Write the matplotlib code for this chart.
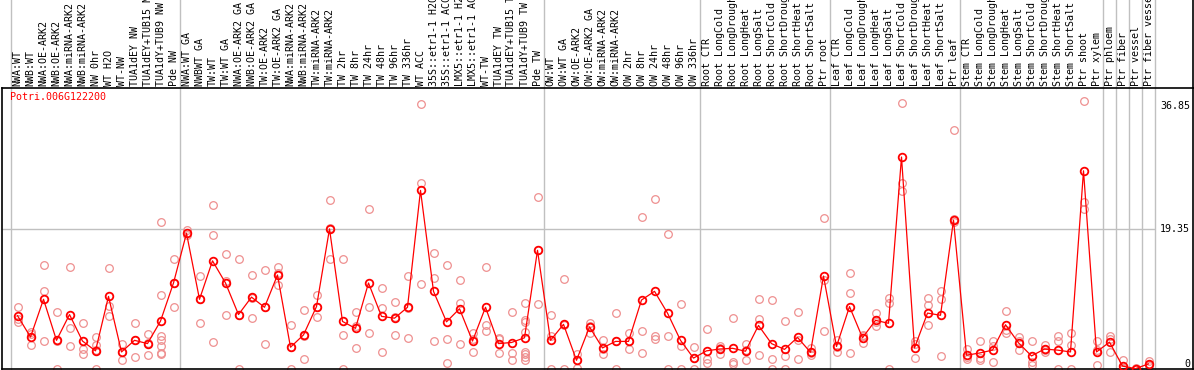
import matplotlib
matplotlib.use("Agg")
import matplotlib.pyplot as plt

gene = "Potri.006G122200"

conditions = [
    "NWA:WT", "NWB:WT", "NWA:OE-ARK2", "NWB:OE-ARK2", "NWA:miRNA-ARK2", "NWB:miRNA-ARK2",
    "NW 0hr", "WT H2O", "WT-NW", "TUA1dEY NW", "TUA1dEY+TUB15 NW", "TUA1dY+TUB9 NW", "Pde NW",
    "NWA:WT GA", "NWBWT GA", "TW:WT", "TW:WT GA", "NWA:OE-ARK2 GA", "NWB:OE-ARK2 GA",
    "TW:OE-ARK2", "TW:OE-ARK2 GA", "NWA:miRNA-ARK2", "NWB:miRNA-ARK2", "TW:miRNA-ARK2",
    "TW:miRNA-ARK2", "TW 2hr", "TW 8hr", "TW 24hr", "TW 48hr", "TW 96hr", "TW 336hr",
    "WT ACC", "35S::etr1-1 H2O", "35S::etr1-1 ACC", "LMX5::etr1-1 H2O", "LMX5::etr1-1 ACC",
    "WT-TW", "TUA1dEY TW", "TUA1dEY+TUB15 TW", "TUA1dY+TUB9 TW", "Pde TW",
    "OW:WT", "OW:WT GA", "OW:OE-ARK2", "OW:OE-ARK2 GA", "OW:miRNA-ARK2", "OW:miRNA-ARK2",
    "OW 2hr", "OW 8hr", "OW 24hr", "OW 48hr", "OW 96hr", "OW 336hr",
    "Root CTR", "Root LongCold", "Root LongDrought", "Root LongHeat", "Root LongSalt",
    "Root ShortCold", "Root ShortDrought", "Root ShortHeat", "Root ShortSalt", "Ptr root",
    "Leaf CTR", "Leaf LongCold", "Leaf LongDrought", "Leaf LongHeat", "Leaf LongSalt",
    "Leaf ShortCold", "Leaf ShortDrought", "Leaf ShortHeat", "Leaf ShortSalt", "Ptr leaf",
    "Stem CTR", "Stem LongCold", "Stem LongDrought", "Stem LongHeat", "Stem LongSalt",
    "Stem ShortCold", "Stem ShortDrought", "Stem ShortHeat", "Stem ShortSalt", "Ptr shoot",
    "Ptr xylem", "Ptr phloem", "Ptr fiber", "Ptr vessel", "Ptr fiber vessel",
]

# index where each group starts (grey separators)
group_starts = [0, 13, 41, 53, 63, 73, 84, 85, 86, 87, 88]

means = [
    7.35, 4.4, 9.6, 3.95, 7.5, 3.85, 2.5, 10.0, 2.35, 3.95, 3.5, 6.6, 11.85,
    18.7, 9.6, 14.9, 11.85, 7.5, 9.9, 8.5, 12.95, 3.0, 4.7, 8.6, 19.3, 6.55,
    5.6, 11.85, 7.25, 7.0, 8.5, 24.6, 10.7, 6.5, 8.3, 3.85, 8.5, 3.5, 3.65, 4.3, 16.35,
    3.95, 6.15, 1.2, 5.8, 2.9, 3.8, 3.8, 9.5, 10.7, 7.7, 3.95, 1.5,
    2.5, 2.75, 2.85, 2.45, 6.0, 3.5, 2.7, 4.35, 2.3, 12.8,
    3.1, 8.6, 4.3, 6.7, 6.3, 29.2, 2.9, 7.7, 7.4, 20.5,
    1.9, 2.2, 2.6, 6.1, 3.6, 1.8, 2.75, 2.6, 2.35, 27.3, 2.35,
    3.7, 0.4, 0.05, 0.7,
]

replicates = [
    [8.6, 6.9, 6.5], [5.1, 3.3, 4.8], [14.3, 10.7, 3.9], [7.9, 0.0, 3.9],
    [14.05, 5.6, 3.1], [6.4, 2.8, 2.1], [4.4, 3.35, 0.0, 2.6], [13.9, 8.7, 7.35],
    [3.4, 1.2, 2.4], [6.3, 1.6, 4.0], [4.8, 1.9, 3.6],
    [20.3, 10.15, 4.5, 3.95, 3.2, 2.2, 2.0], [15.1, 8.5, 11.9],
    [19.2, 18.5], [12.8, 6.3, 9.7], [22.6, 18.5, 3.7], [15.9, 7.5, 12.1],
    [15.1, 0.0, 7.4], [12.95, 7.0, 9.8], [13.6, 3.4, 8.5], [14.05, 11.6, 13.2],
    [6.0, 0.0, 3.0], [8.1, 1.4, 4.6], [10.2, 7.1, 8.5], [23.3, 15.2, 19.4],
    [15.2, 4.7, 0.0], [7.9, 5.9, 2.9], [22.0, 8.6, 4.9], [11.1, 8.4, 2.3],
    [9.2, 4.7, 7.1], [12.8, 4.3, 8.4], [36.45, 25.6, 11.7], [16.0, 12.5, 3.8],
    [14.3, 4.1, 0.8], [12.3, 9.1, 3.4], [4.95, 2.4, 4.2], [14.1, 6.0, 5.3],
    [4.3, 4.1, 2.2], [7.85, 2.2, 1.3], [9.1, 6.8, 6.5, 5.1, 2.3, 2.0, 1.6, 1.2],
    [23.7, 8.9, 16.4],
    [7.5, 4.5, 0.0], [12.35, 0.0, 6.1], [1.2, 0.2, 2.1], [6.3, 4.95, 5.9],
    [3.95, 2.0, 2.8], [7.7, 0.0, 3.8], [4.9, 2.75, 3.8], [20.9, 5.2, 2.2],
    [23.4, 4.6, 4.1], [18.6, 4.55, 0.0], [8.9, 3.1, 0.0], [3.0, 0.0, 1.5],
    [5.5, 1.4, 0.8], [3.2, 2.1, 2.9], [7.0, 0.9, 0.7], [3.5, 1.2, 2.6],
    [9.6, 6.9, 1.9], [9.45, 1.4, 0.0], [6.55, 1.8, 0.0], [7.85, 4.0, 1.35],
    [2.85, 2.2, 1.9], [20.75, 12.3, 5.2],
    [4.0, 2.4, 3.0], [13.2, 10.5, 2.2], [4.75, 3.6, 4.5], [7.7, 6.5, 5.9],
    [9.8, 9.1, 0.0], [36.6, 25.6, 24.5], [3.8, 3.4, 1.5], [9.8, 8.8, 6.1],
    [10.8, 9.6, 1.8], [32.9, 20.6, 20.3],
    [2.7, 1.6, 1.4], [3.8, 1.5, 1.3], [3.8, 3.1, 1.0], [8.0, 5.4, 4.9],
    [3.8, 2.6, 4.4], [3.8, 1.0, 0.6], [3.3, 2.4, 2.6], [4.55, 3.8, 0.0],
    [4.95, 3.3, 0.0], [36.85, 23.0, 22.0], [3.8, 2.6, 0.6],
    [4.6, 4.1, 2.4], [1.2, 0.1, 0.0], [0.0, 0.1, 0.0], [1.1, 0.6, 0.4],
]

ytick_values = [36.85, 19.35, 0]

W, H = 1194, 370
fig = plt.figure(figsize=(W / 100, H / 100), dpi=100)
# plot area from x=1.5..1193 px, y=88..369 px
ax = fig.add_axes([1.5 / W, 1 / H, (1193 - 1.5) / W, 281 / H])
ax.set_xlim((1.5 - 17.5) / 13, (1193 - 17.5) / 13)
ax.set_ylim(0, 281 / 7.26)
ax.set_xticks([])
ax.set_yticks([])
for s in ax.spines.values():
    s.set_color("black")
    s.set_linewidth(1.2)

mono = "DejaVu Sans Mono"

# group separators through the whole height
for g in group_starts:
    ax.axvline(g - 0.5, ymin=0, ymax=369 / 281, color="#c0c0c0", lw=1, clip_on=False, zorder=1)
ax.axvline((1193 - 17.5) / 13, ymin=1, ymax=369 / 281, color="black", lw=1.2, clip_on=False)

# middle grid line
ax.hlines(ytick_values[1], (1.5 - 17.5) / 13, len(conditions) - 0.5, color="#c0c0c0", lw=1, zorder=1)

# replicates
for i, reps in enumerate(replicates):
    ax.plot([i] * len(reps), reps, "o", ms=5.5, mfc="none", mec="#ee9090", mew=0.9, zorder=2)

# means
x = list(range(len(means)))
ax.plot(x, means, "-", color="red", lw=0.9, zorder=3)
ax.plot(x, means, "o", ms=5.5, mfc="none", mec="red", mew=1.3, zorder=4)

# condition labels above the plot
for i, lab in enumerate(conditions):
    ax.text(i, 1 + 2 / 281, lab, rotation=90, ha="center", va="bottom",
            transform=ax.get_xaxis_transform(), fontsize=7.2, family=mono, clip_on=False)

ax.text(9 / W, 1 - 4 / 281, gene, transform=fig.transFigure if False else ax.transAxes,
        color="red", fontsize=7.2, family=mono, ha="left", va="top")

xr = (1190 - 17.5) / 13
ax.text(xr, ytick_values[0], "%.2f" % ytick_values[0], ha="right", va="top", fontsize=7.2, family=mono)
ax.text(xr, ytick_values[1], "%.2f" % ytick_values[1], ha="right", va="center", fontsize=7.2, family=mono)
ax.text(xr, ytick_values[2], "0", ha="right", va="bottom", fontsize=7.2, family=mono)

fig.savefig("out.png", dpi=100)
